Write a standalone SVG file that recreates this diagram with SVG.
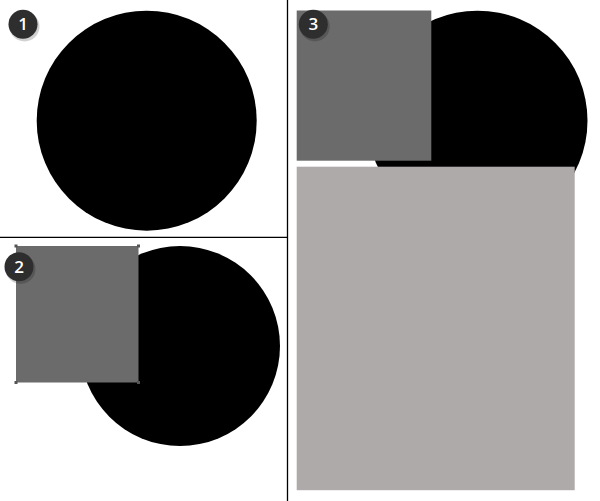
<svg xmlns="http://www.w3.org/2000/svg" width="600" height="501" viewBox="0 0 600 501">
<defs>
<style>
.blob{fill:#000}
.dark{fill:#6b6b6b}
.light{fill:#aeaaa9}
.rule{stroke:#000;stroke-width:1.3;fill:none}
.badge{fill:#2e2e2e}
.shadow{fill:#000;opacity:0.18}
.num{fill:#fff;font-family:"Open Sans","DejaVu Sans",sans-serif;font-size:17px;font-weight:600;text-anchor:middle}
.handle{fill:#555}
</style>
</defs>
<rect width="600" height="501" fill="#fff"/>
<g id="panel1">
<circle class="blob" cx="146.7" cy="120.7" r="110"/>
</g>
<g id="panel2">
<circle class="blob" cx="180" cy="346" r="100"/>
<rect class="dark" x="16" y="246" width="122.5" height="136.5"/>
<rect class="handle" x="14.5" y="244.5" width="3" height="3"/>
<rect class="handle" x="137" y="244.5" width="3" height="3"/>
<rect class="handle" x="14.5" y="381" width="3" height="3"/>
<rect class="handle" x="137" y="381" width="3" height="3"/>
</g>
<g id="panel3">
<circle class="blob" cx="477.5" cy="120.7" r="110"/>
<rect class="dark" x="296.7" y="10.5" width="134.6" height="150.2"/>
<rect class="light" x="296.7" y="166.7" width="278" height="323.5"/>
</g>
<g id="connectors">
<line class="rule" x1="287.5" y1="0" x2="287.5" y2="501"/>
<line class="rule" x1="0" y1="237.3" x2="287.5" y2="237.3"/>
</g>
<g id="badge1">
<circle class="shadow" cx="24.5" cy="26.5" r="15"/>
<circle class="badge" cx="23" cy="24.3" r="14.5"/>
<text class="num" x="23" y="30.3">1</text>
</g>
<g id="badge2">
<circle class="shadow" cx="20.5" cy="269" r="15"/>
<circle class="badge" cx="19" cy="266.7" r="14.5"/>
<text class="num" x="19" y="272.7">2</text>
</g>
<g id="badge3">
<circle class="shadow" cx="314.8" cy="26.5" r="15"/>
<circle class="badge" cx="313.3" cy="24.3" r="14.5"/>
<text class="num" x="313.3" y="30.3">3</text>
</g>
</svg>
